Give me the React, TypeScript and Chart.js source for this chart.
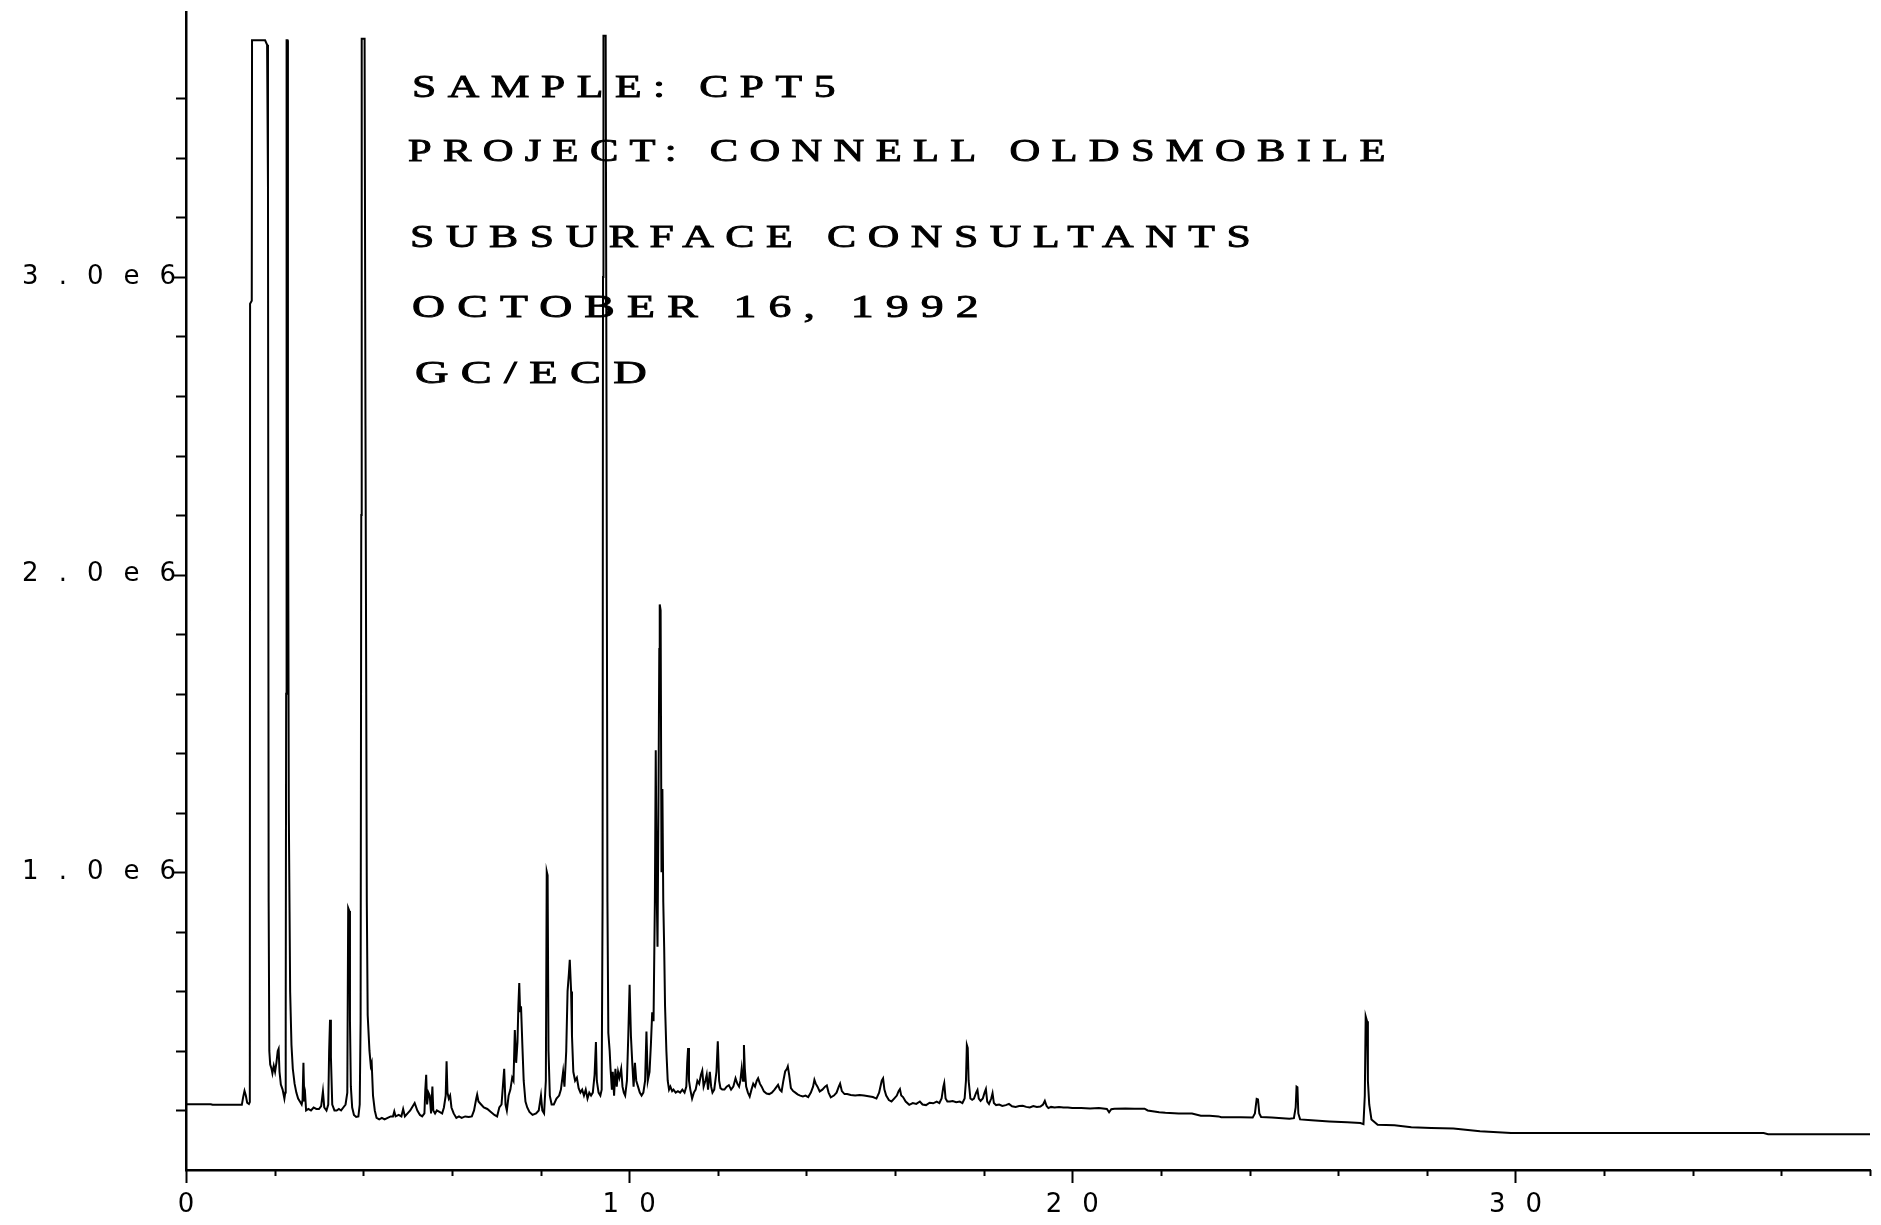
import React, { useEffect, useRef } from 'react';
import { Chart, registerables } from 'chart.js';

Chart.register(...registerables);

// ---- DATA: [retention time (min), detector signal (x1e6 counts)] ----
const injectionRegion: [number, number][] = [
  [0, 0.221], [0.56, 0.221], [0.6, 0.219], [1.26, 0.219], [1.29, 0.245], [1.32, 0.266], [1.35, 0.25],
  [1.38, 0.226], [1.42, 0.222], [1.44, 0.228], [1.446, 2.91], [1.484, 2.92], [1.49, 3.795], [1.785, 3.795],
  [1.83, 3.78], [1.85, 3.3], [1.865, 0.9], [1.88, 0.4], [1.9, 0.354], [1.93, 0.34],
  [1.95, 0.325], [1.98, 0.35], [2.01, 0.33], [2.04, 0.36], [2.07, 0.4], [2.09, 0.407], [2.11, 0.33],
  [2.14, 0.287], [2.18, 0.27], [2.22, 0.24], [2.24, 0.26], [2.25, 0.5], [2.26, 1.6], [2.27, 3.795],
  [2.29, 3.795], [2.3, 2.5], [2.32, 1.2], [2.35, 0.6], [2.38, 0.42], [2.41, 0.34], [2.45, 0.29],
  [2.49, 0.26], [2.53, 0.24], [2.57, 0.23], [2.61, 0.22], [2.63, 0.235], [2.65, 0.36], [2.67, 0.23],
  [2.69, 0.25], [2.71, 0.2],
];

const earlyPeaks: [number, number][] = [
  [2.76, 0.205], [2.82, 0.2], [2.88, 0.21], [2.94, 0.205], [3.0, 0.205], [3.05, 0.215], [3.09, 0.264],
  [3.12, 0.21], [3.17, 0.2], [3.21, 0.22], [3.23, 0.4], [3.25, 0.505], [3.27, 0.38], [3.3, 0.22],
  [3.35, 0.2], [3.4, 0.2], [3.45, 0.205], [3.5, 0.2], [3.55, 0.21], [3.6, 0.22], [3.64, 0.26],
  [3.66, 0.88], [3.685, 0.87], [3.7, 0.5], [3.72, 0.28], [3.75, 0.21], [3.79, 0.185], [3.84, 0.178],
  [3.89, 0.18], [3.92, 0.22], [3.94, 0.5], [3.955, 2.2], [3.965, 3.8], [4.03, 3.8], [4.05, 2.5],
  [4.08, 0.9], [4.1, 0.52], [4.14, 0.4], [4.17, 0.35], [4.19, 0.36], [4.22, 0.25], [4.26, 0.2],
  [4.3, 0.175], [4.36, 0.17], [4.42, 0.175], [4.48, 0.17], [4.55, 0.175], [4.62, 0.18], [4.67, 0.18],
  [4.7, 0.197], [4.73, 0.18], [4.8, 0.185], [4.86, 0.18], [4.9, 0.205], [4.94, 0.18], [5.0, 0.19],
  [5.06, 0.2], [5.12, 0.215], [5.16, 0.225], [5.22, 0.2], [5.28, 0.185], [5.33, 0.18], [5.38, 0.19],
  [5.4, 0.27], [5.42, 0.32], [5.44, 0.22], [5.47, 0.26], [5.5, 0.25], [5.53, 0.19], [5.56, 0.28],
  [5.58, 0.2],
];

const middlePeaks: [number, number][] = [
  [5.62, 0.19], [5.66, 0.2], [5.72, 0.195], [5.78, 0.19], [5.82, 0.21], [5.86, 0.25], [5.88, 0.365],
  [5.9, 0.26], [5.93, 0.24], [5.96, 0.25], [5.99, 0.21], [6.04, 0.19], [6.1, 0.175], [6.16, 0.18],
  [6.22, 0.175], [6.3, 0.18], [6.38, 0.178], [6.45, 0.18], [6.5, 0.2], [6.55, 0.24], [6.57, 0.253],
  [6.6, 0.23], [6.66, 0.22], [6.72, 0.21], [6.8, 0.205], [6.88, 0.195], [6.96, 0.185], [7.02, 0.18],
  [7.07, 0.21], [7.12, 0.22], [7.16, 0.3], [7.18, 0.34], [7.21, 0.22], [7.24, 0.2], [7.28, 0.25],
  [7.32, 0.27], [7.36, 0.31], [7.39, 0.3], [7.42, 0.47], [7.45, 0.36], [7.48, 0.43], [7.5, 0.55],
  [7.52, 0.628], [7.54, 0.53], [7.56, 0.55], [7.59, 0.42], [7.62, 0.3], [7.66, 0.23], [7.7, 0.21],
  [7.75, 0.195], [7.82, 0.185], [7.9, 0.19], [7.96, 0.2], [8.01, 0.25], [8.04, 0.2], [8.08, 0.19],
  [8.12, 0.3], [8.14, 1.003], [8.16, 0.99], [8.18, 0.4], [8.21, 0.25], [8.25, 0.22], [8.3, 0.22],
  [8.36, 0.24], [8.42, 0.25], [8.46, 0.27], [8.51, 0.33], [8.54, 0.28], [8.58, 0.4], [8.61, 0.6],
  [8.64, 0.66], [8.66, 0.706], [8.69, 0.6], [8.71, 0.45], [8.74, 0.33], [8.78, 0.3], [8.82, 0.31],
  [8.86, 0.275], [8.9, 0.26], [8.94, 0.27], [8.98, 0.25], [9.02, 0.27], [9.06, 0.24], [9.1, 0.26],
  [9.14, 0.25], [9.18, 0.26], [9.22, 0.32], [9.25, 0.43], [9.27, 0.3], [9.31, 0.26], [9.35, 0.25],
  [9.38, 0.27],
];

const mainCluster: [number, number][] = [
  [9.4, 0.9], [9.41, 3.0], [9.42, 3.81], [9.47, 3.81], [9.49, 2.5], [9.51, 0.9], [9.53, 0.46],
  [9.56, 0.4], [9.58, 0.34], [9.61, 0.27], [9.63, 0.33], [9.66, 0.25], [9.69, 0.34], [9.72, 0.28],
  [9.75, 0.33], [9.78, 0.31], [9.82, 0.34], [9.85, 0.28], [9.88, 0.26], [9.91, 0.25], [9.95, 0.3],
  [9.98, 0.45], [10.01, 0.622], [10.04, 0.45], [10.07, 0.36], [10.1, 0.28], [10.13, 0.36], [10.16, 0.3],
  [10.2, 0.28], [10.24, 0.26], [10.28, 0.25], [10.32, 0.26], [10.36, 0.3], [10.39, 0.465], [10.42, 0.3],
  [10.46, 0.33], [10.49, 0.42], [10.52, 0.53], [10.55, 0.5], [10.58, 0.9], [10.6, 1.41], [10.62, 0.95],
  [10.64, 0.75], [10.66, 1.2], [10.68, 1.75], [10.69, 1.9], [10.71, 1.88], [10.73, 1.0], [10.75, 1.28],
  [10.77, 0.9], [10.79, 0.75], [10.81, 0.55], [10.84, 0.4], [10.87, 0.3], [10.9, 0.27], [10.93, 0.28],
  [10.97, 0.265], [11.0, 0.27], [11.05, 0.26], [11.1, 0.265], [11.15, 0.26], [11.2, 0.27], [11.25, 0.26],
  [11.29, 0.28], [11.31, 0.36], [11.33, 0.41], [11.35, 0.3], [11.38, 0.27], [11.42, 0.24], [11.46, 0.26],
  [11.5, 0.27], [11.54, 0.3], [11.58, 0.29], [11.62, 0.32], [11.65, 0.334], [11.68, 0.28], [11.72, 0.3],
  [11.75, 0.32], [11.78, 0.27], [11.82, 0.33], [11.85, 0.28], [11.88, 0.26], [11.92, 0.27], [11.97, 0.33],
];

const latePeaks: [number, number][] = [
  [12.0, 0.432], [12.03, 0.3], [12.06, 0.275], [12.1, 0.27], [12.15, 0.27], [12.2, 0.28], [12.25, 0.285],
  [12.3, 0.27], [12.35, 0.28], [12.4, 0.308], [12.44, 0.29], [12.48, 0.28], [12.51, 0.3], [12.54, 0.342],
  [12.57, 0.3], [12.59, 0.42], [12.61, 0.34], [12.64, 0.28], [12.68, 0.26], [12.72, 0.247], [12.76, 0.27],
  [12.8, 0.29], [12.84, 0.28], [12.88, 0.3], [12.91, 0.308], [12.95, 0.29], [12.99, 0.28], [13.04, 0.264],
  [13.1, 0.257], [13.16, 0.255], [13.22, 0.26], [13.28, 0.27], [13.33, 0.28], [13.36, 0.286], [13.4, 0.27],
  [13.44, 0.264], [13.48, 0.3], [13.52, 0.331], [13.56, 0.34], [13.58, 0.348], [13.61, 0.32], [13.65, 0.275],
  [13.7, 0.265], [13.75, 0.26], [13.8, 0.254], [13.86, 0.25], [13.92, 0.247], [13.98, 0.25], [14.04, 0.245],
  [14.1, 0.26], [14.15, 0.28], [14.18, 0.303], [14.21, 0.29], [14.25, 0.28], [14.3, 0.264], [14.36, 0.27],
  [14.42, 0.28], [14.46, 0.284], [14.5, 0.26], [14.55, 0.244], [14.62, 0.25], [14.68, 0.26], [14.73, 0.28],
  [14.76, 0.29], [14.8, 0.265], [14.86, 0.255], [14.92, 0.255], [15.0, 0.252], [15.1, 0.25], [15.2, 0.252],
  [15.3, 0.25], [15.4, 0.248], [15.5, 0.245], [15.58, 0.24], [15.64, 0.26], [15.7, 0.3], [15.73, 0.308],
  [15.76, 0.27], [15.8, 0.25], [15.86, 0.235], [15.92, 0.23], [15.98, 0.24], [16.04, 0.25], [16.08, 0.265],
  [16.11, 0.272], [16.14, 0.25], [16.18, 0.245], [16.24, 0.23], [16.32, 0.219], [16.4, 0.225], [16.48, 0.222],
  [16.56, 0.23], [16.62, 0.22], [16.7, 0.218], [16.78, 0.226], [16.86, 0.224], [16.94, 0.23], [17.0, 0.225],
  [17.05, 0.24], [17.09, 0.28], [17.11, 0.292], [17.14, 0.24], [17.18, 0.23], [17.24, 0.23], [17.3, 0.232],
  [17.38, 0.228], [17.46, 0.23], [17.52, 0.225], [17.57, 0.24], [17.6, 0.3], [17.62, 0.42], [17.64, 0.41],
  [17.66, 0.3], [17.7, 0.24], [17.74, 0.236], [17.78, 0.24], [17.83, 0.26], [17.86, 0.269], [17.89, 0.24],
  [17.93, 0.232], [17.98, 0.24], [18.02, 0.26], [18.05, 0.272], [18.08, 0.23], [18.12, 0.222], [18.17, 0.24],
  [18.2, 0.258], [18.23, 0.225], [18.28, 0.218], [18.35, 0.22], [18.42, 0.215], [18.5, 0.218], [18.57, 0.222],
  [18.64, 0.214], [18.72, 0.212], [18.8, 0.215], [18.88, 0.216], [18.96, 0.212], [19.04, 0.21], [19.12, 0.215],
  [19.2, 0.212], [19.28, 0.213], [19.34, 0.22], [19.38, 0.232], [19.42, 0.215], [19.46, 0.208], [19.52, 0.212],
  [19.6, 0.21], [19.7, 0.212], [19.8, 0.21], [19.9, 0.21],
];

const tailRegion: [number, number][] = [
  [20.0, 0.208], [20.2, 0.208], [20.4, 0.207], [20.6, 0.208], [20.78, 0.205], [20.83, 0.194], [20.88, 0.204],
  [20.95, 0.206], [21.2, 0.207], [21.4, 0.206], [21.63, 0.206], [21.7, 0.2], [21.96, 0.194], [22.1, 0.192],
  [22.4, 0.19], [22.7, 0.19], [22.9, 0.182], [23.1, 0.182], [23.3, 0.18], [23.36, 0.177], [23.8, 0.177],
  [24.07, 0.176], [24.12, 0.19], [24.16, 0.239], [24.19, 0.237], [24.22, 0.19], [24.26, 0.178], [24.5, 0.176],
  [24.9, 0.172], [25.0, 0.174], [25.04, 0.21], [25.06, 0.28], [25.08, 0.278], [25.1, 0.19], [25.14, 0.17],
  [25.4, 0.167], [25.8, 0.163], [26.2, 0.16], [26.5, 0.158], [26.57, 0.154], [26.6, 0.25], [26.62, 0.516],
  [26.65, 0.5], [26.67, 0.3], [26.7, 0.22], [26.75, 0.17], [26.89, 0.152], [27.27, 0.15], [27.65, 0.144],
  [28.1, 0.141], [28.6, 0.139], [29.2, 0.13], [29.9, 0.124], [31.0, 0.124], [32.5, 0.124], [34.0, 0.124],
  [35.6, 0.124], [35.7, 0.12], [38.0, 0.12],
];

// ---- AXES ----
const xRange = [0, 38];
const yRange = [0, 3.89];
const xTickStep = 2;
const yTickStep = 0.2;
const xTickLabelValues = [0, 10, 20, 30];
const xTickLabels = ['0', '10', '20', '30'];
const yTickLabelValues = [1, 2, 3];
const yTickLabels = ['1.0e6', '2.0e6', '3.0e6'];

// ---- ANNOTATION TEXT ----
const annotationLines = [
  'SAMPLE: CPT5',
  'PROJECT: CONNELL OLDSMOBILE',
  'SUBSURFACE CONSULTANTS',
  'OCTOBER 16, 1992',
  'GC/ECD',
];

// ---- STYLE / LAYOUT ----
const CANVAS_W = 1865;
const CANVAS_H = 1209;
const annotationX = [404, 400, 402, 404, 407];
const annotationBaseline = [89, 153, 239, 309, 375];
const annotationStretch = [1.36, 1.33, 1.365, 1.43, 1.45];
const ANNOT_FONT = '32px "Liberation Serif"';
const ANNOT_SPACING = '8.5px';
const TICK_SPACING_PX = 20;
const TICK_FONT = { family: '"DejaVu Sans"', size: 26 };

function isOnStep(v: number, step: number) {
  const r = v / step;
  return Math.abs(r - Math.round(r)) < 1e-6;
}

const plotterPlugin = {
  id: 'plotterDecor',
  beforeDraw(chart: any) {
    chart.ctx.letterSpacing = `${TICK_SPACING_PX}px`;
  },
  afterDraw(chart: any) {
    const { ctx, chartArea } = chart;
    const xs = chart.scales.x;
    const ys = chart.scales.y;
    ctx.save();
    ctx.letterSpacing = '0px';
    ctx.strokeStyle = '#000';
    ctx.lineWidth = 2;
    ctx.lineCap = 'butt';
    // y tick marks
    ys.ticks.forEach((t: any) => {
      if (t.value <= 0 || !isOnStep(t.value, yTickStep)) return;
      const py = Math.round(ys.getPixelForValue(t.value)) + 0.5;
      const major = yTickLabelValues.some((v) => Math.abs(v - t.value) < 1e-6);
      const len = major ? 12 : 10;
      ctx.beginPath();
      ctx.moveTo(chartArea.left, py);
      ctx.lineTo(chartArea.left - len, py);
      ctx.stroke();
    });
    // x tick marks
    xs.ticks.forEach((t: any) => {
      if (!isOnStep(t.value, xTickStep)) return;
      const px = Math.round(xs.getPixelForValue(t.value)) + 0.5;
      const major = xTickLabelValues.some((v) => Math.abs(v - t.value) < 1e-6);
      const len = major ? 13 : 6;
      ctx.beginPath();
      ctx.moveTo(px, chartArea.bottom);
      ctx.lineTo(px, chartArea.bottom + len);
      ctx.stroke();
    });
    // annotation block
    ctx.fillStyle = '#000';
    ctx.strokeStyle = '#000';
    ctx.lineWidth = 0.9;
    ctx.font = ANNOT_FONT;
    ctx.textBaseline = 'alphabetic';
    ctx.textAlign = 'left';
    annotationLines.forEach((txt, i) => {
      ctx.save();
      ctx.translate(annotationX[i], annotationBaseline[i]);
      ctx.scale(annotationStretch[i], 1);
      ctx.letterSpacing = ANNOT_SPACING;
      ctx.fillText(txt, 0, 0);
      ctx.strokeText(txt, 0, 0);
      ctx.restore();
    });
    ctx.restore();
    ctx.letterSpacing = '0px';
  },
};

export default function App() {
  const ref = useRef<HTMLCanvasElement | null>(null);

  useEffect(() => {
    const canvas = ref.current;
    if (!canvas) return;
    const trace = [
      ...injectionRegion,
      ...earlyPeaks,
      ...middlePeaks,
      ...mainCluster,
      ...latePeaks,
      ...tailRegion,
    ].map(([t, v]) => ({ x: t, y: v }));

    const chart = new Chart(canvas, {
      type: 'line',
      data: {
        datasets: [
          {
            data: trace,
            borderColor: '#000',
            borderWidth: 2,
            pointRadius: 0,
            tension: 0,
            fill: false,
          },
        ],
      },
      options: {
        animation: false,
        responsive: false,
        maintainAspectRatio: false,
        devicePixelRatio: 1,
        layout: { padding: { top: 4, right: 3, left: 0, bottom: 0 } },
        plugins: {
          legend: { display: false },
          tooltip: { enabled: false },
          title: { display: false },
        },
        scales: {
          x: {
            type: 'linear',
            min: xRange[0],
            max: xRange[1],
            grid: { display: false, drawTicks: false },
            border: { display: true, color: '#000', width: 2.5 },
            ticks: {
              stepSize: xTickStep,
              autoSkip: false,
              maxRotation: 0,
              minRotation: 0,
              maxTicksLimit: 100,
              padding: 20,
              labelOffset: TICK_SPACING_PX / 2,
              color: '#000',
              font: TICK_FONT,
              callback: (value: any) => {
                const idx = xTickLabelValues.findIndex((v) => Math.abs(v - Number(value)) < 1e-6);
                return idx >= 0 ? xTickLabels[idx] : '';
              },
            },
            afterFit: (scale: any) => {
              scale.height = 47;
              scale.paddingLeft = 0;
              scale.paddingRight = 0;
              scale.paddingTop = 0;
              scale.paddingBottom = 0;
            },
          },
          y: {
            type: 'linear',
            min: yRange[0],
            max: yRange[1],
            grid: { display: false, drawTicks: false },
            border: { display: true, color: '#000', width: 2.5 },
            ticks: {
              stepSize: yTickStep,
              autoSkip: false,
              maxTicksLimit: 100,
              padding: -10,
              color: '#000',
              font: TICK_FONT,
              callback: (value: any) => {
                const idx = yTickLabelValues.findIndex((v) => Math.abs(v - Number(value)) < 1e-6);
                return idx >= 0 ? yTickLabels[idx] : '';
              },
            },
            afterFit: (scale: any) => {
              scale.width = 178;
              scale.paddingLeft = 0;
              scale.paddingRight = 0;
              scale.paddingTop = 0;
              scale.paddingBottom = 0;
            },
          },
        },
      },
      plugins: [plotterPlugin],
    });

    return () => chart.destroy();
  }, []);

  return (
    <canvas
      ref={ref}
      width={CANVAS_W}
      height={CANVAS_H}
      style={{ display: 'block', width: CANVAS_W, height: CANVAS_H }}
    />
  );
}
